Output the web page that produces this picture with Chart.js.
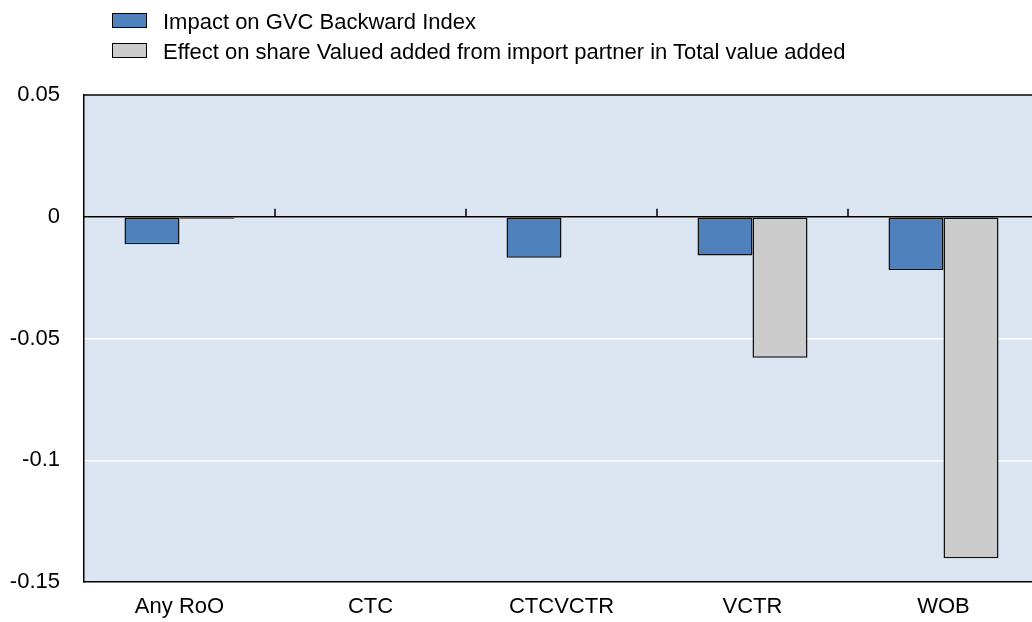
<!DOCTYPE html>
<html>
<head>
<meta charset="utf-8">
<script src="https://cdn.jsdelivr.net/npm/chart.js@4.4.1/dist/chart.umd.min.js"></script>
<style>
    html, body { margin: 0; padding: 0; background: #ffffff; overflow: hidden; }
    #wrap { position: relative; width: 1040px; height: 622px; }
    #legend { position: absolute; left: 112px; top: 7px; font-family: "Liberation Sans", Arial, sans-serif; font-size: 22px; color: #000; }
    #legend div { height: 30px; line-height: 30px; white-space: nowrap; }
    #legend span.box { display: inline-block; width: 33px; height: 13px; border: 1px solid #000; margin-right: 16px; vertical-align: 1px; }
</style>
</head>
<body>
<div id="wrap">
    <canvas id="grafica" width="1040" height="622"></canvas>
    <div id="legend"></div>
</div>
<script>
// Datos
const categorias = ['Any RoO', 'CTC', 'CTCVCTR', 'VCTR', 'WOB'];
const impactoGVC = [-0.0113, 0, -0.0168, -0.0159, -0.0219];
const efectoShareVA = [-0.0008, 0, 0, -0.0579, -0.1402];
const ticksY = [0.05, 0, -0.05, -0.1, -0.15];

const nombres = ['Impact on GVC Backward Index', 'Effect on share Valued added from import partner in Total value added'];
const colores = ['#4f81bd', '#cccccc'];

// Fondo del área de trazado, marco superior y marcas en la línea cero
const marcoPlot = {
    id: 'marcoPlot',
    beforeDraw(chart) {
        const { ctx, chartArea: a } = chart;
        ctx.save();
        ctx.fillStyle = '#dce6f2';
        ctx.fillRect(a.left, a.top, a.right - a.left, a.bottom - a.top);
        ctx.restore();
    },
    afterDatasetsDraw(chart) {
        const { ctx, chartArea: a, scales } = chart;
        const y0 = scales.y.getPixelForValue(0);
        ctx.save();
        ctx.strokeStyle = '#000';
        ctx.lineWidth = 1.5;
        ctx.beginPath();
        ctx.moveTo(a.left, a.top);
        ctx.lineTo(a.right, a.top);
        ctx.moveTo(a.left, y0);
        ctx.lineTo(a.right, y0);
        for (let i = 1; i < categorias.length; i++) {
            const x = Math.round(scales.x.getPixelForValue(i - 0.5));
            ctx.moveTo(x, y0);
            ctx.lineTo(x, y0 - 8);
        }
        ctx.stroke();
        ctx.restore();
    }
};

const ctxGrafica = document.getElementById('grafica').getContext('2d');
new Chart(ctxGrafica, {
    type: 'bar',
    data: {
        labels: categorias,
        datasets: [
            {
                label: nombres[0],
                data: impactoGVC,
                backgroundColor: colores[0],
                borderColor: '#111111',
                borderWidth: 1.5,
                borderSkipped: false
            },
            {
                label: nombres[1],
                data: efectoShareVA,
                backgroundColor: colores[1],
                borderColor: '#111111',
                borderWidth: 1.5,
                borderSkipped: false
            }
        ]
    },
    options: {
        responsive: false,
        animation: false,
        layout: { padding: { top: 95, right: 1, left: 0, bottom: 0 } },
        datasets: { bar: { categoryPercentage: 0.576, barPercentage: 1 } },
        plugins: {
            legend: { display: false },
            tooltip: { enabled: false }
        },
        scales: {
            x: {
                grid: { display: false, drawTicks: false },
                border: { display: true, color: '#000', width: 1.5 },
                ticks: { color: '#000', font: { family: 'Liberation Sans', size: 22 }, padding: 12 },
                afterFit(scale) { scale.height = 40; }
            },
            y: {
                min: -0.15,
                max: 0.05,
                afterBuildTicks(scale) { scale.ticks = ticksY.map(v => ({ value: v })); },
                grid: {
                    color: '#ffffff',
                    lineWidth: 1.5,
                    drawTicks: false
                },
                border: { display: true, color: '#000', width: 1.5 },
                ticks: {
                    color: '#000',
                    font: { family: 'Liberation Sans', size: 22 },
                    padding: 24,
                    callback: v => String(Number(v.toFixed(2)))
                },
                afterFit(scale) { scale.width = 84; }
            }
        }
    },
    plugins: [marcoPlot]
});

// Leyenda en HTML
const leyenda = document.getElementById('legend');
nombres.forEach((n, i) => {
    const fila = document.createElement('div');
    fila.innerHTML = '<span class="box" style="background:' + colores[i] + '"></span>' + n;
    leyenda.appendChild(fila);
});
</script>
</body>
</html>
